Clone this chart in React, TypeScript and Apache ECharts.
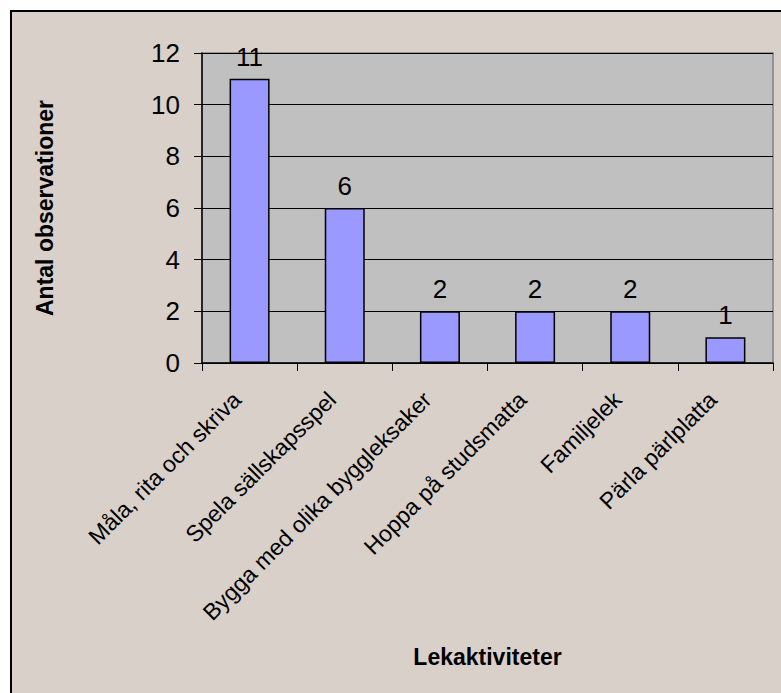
import React, { useEffect, useRef } from "react";
import * as echarts from "echarts";

const categories = [
  "Måla, rita och skriva",
  "Spela sällskapsspel",
  "Bygga med olika byggleksaker",
  "Hoppa på studsmatta",
  "Familjelek",
  "Pärla pärlplatta",
];
const values = [11, 6, 2, 2, 2, 1];
const yTitle = "Antal observationer";
const xTitle = "Lekaktiviteter";

const FONT = "'Liberation Sans', Arial, sans-serif";

export default function App() {
  const ref = useRef<HTMLDivElement>(null);
  useEffect(() => {
    if (!ref.current) return;
    const chart = echarts.init(ref.current, null, { renderer: "svg" });
    chart.setOption({
      animation: false,
      backgroundColor: "#ffffff",
      textStyle: { fontFamily: FONT },
      graphic: [
        {
          type: "rect",
          z: -10,
          shape: { x: 11, y: 11, width: 800, height: 720 },
          style: { fill: "#D9D0CA", stroke: "#000000", lineWidth: 2 },
        },
      ],
      grid: {
        left: 202,
        top: 53,
        right: 8,
        bottom: 330,
        show: true,
        backgroundColor: "#C0C0C0",
        borderColor: "#808080",
        borderWidth: 1.5,
      },
      xAxis: {
        type: "category",
        data: categories,
        name: xTitle,
        nameLocation: "middle",
        nameGap: 282,
        nameTextStyle: { fontSize: 23, fontWeight: "bold", color: "#000", fontFamily: FONT },
        axisLine: { show: true, lineStyle: { color: "#000", width: 1.5 } },
        axisTick: { show: true, interval: 0, length: 8, lineStyle: { color: "#000" } },
        axisLabel: {
          interval: 0,
          rotate: 45,
          fontSize: 23,
          color: "#000",
          margin: 20,
          padding: [0, 18, 0, 0],
          fontFamily: FONT,
        },
        splitLine: { show: false },
      },
      yAxis: {
        type: "value",
        min: 0,
        max: 12,
        interval: 2,
        name: yTitle,
        nameLocation: "middle",
        nameGap: 146,
        nameTextStyle: { fontSize: 23, fontWeight: "bold", color: "#000", fontFamily: FONT },
        axisLine: { show: true, lineStyle: { color: "#000", width: 1.5 } },
        axisTick: { show: true, length: 8, lineStyle: { color: "#000" } },
        axisLabel: { fontSize: 26, color: "#000", margin: 22, fontFamily: FONT },
        splitLine: { show: true, lineStyle: { color: "#000", width: 1 } },
      },
      series: [
        {
          type: "bar",
          data: values,
          barWidth: 40,
          itemStyle: { color: "#9999FF", borderColor: "#000", borderWidth: 1.5 },
          label: {
            show: true,
            position: "top",
            distance: 9,
            fontSize: 26,
            color: "#000",
            fontFamily: FONT,
          },
        },
      ],
    });
    return () => chart.dispose();
  }, []);
  return (
    <div
      ref={ref}
      style={{ position: "fixed", left: 0, top: 0, width: 781, height: 693 }}
    />
  );
}
